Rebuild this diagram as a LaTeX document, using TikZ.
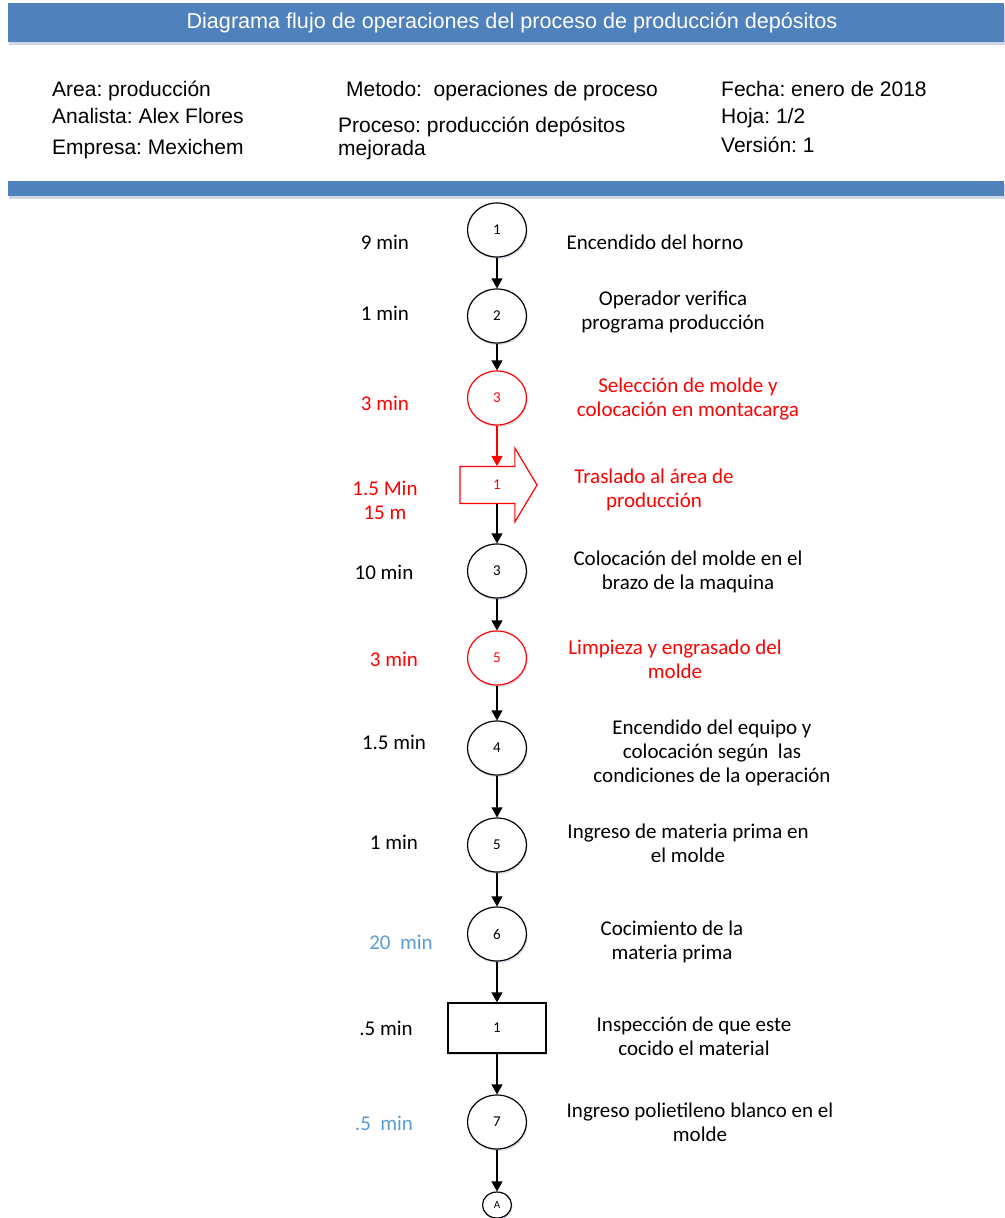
\documentclass[tikz,border=0pt]{standalone}
\usepackage{fontspec}
\setmainfont{Carlito}
\newfontfamily\headfont{Liberation Sans}
\usetikzlibrary{arrows.meta,shapes.geometric,shapes.arrows,shadows}
\definecolor{HDblue}{HTML}{4F81BD}
\definecolor{HDred}{HTML}{FF0000}
\definecolor{HDsky}{HTML}{5B9BD5}
\definecolor{HDink}{HTML}{000000}
\definecolor{HDshade}{HTML}{BFCCDD}
\frenchspacing

\begin{document}
\begin{tikzpicture}[
  x=1pt,y=-1pt,
  font=\fontsize{21}{24}\selectfont,
  >={Triangle[length=10pt,width=11pt]},
  flow/.style={draw=HDink,line width=1.3pt,->},
  flowred/.style={flow,draw=HDred},
  bar/.style={fill=HDblue,inner sep=0pt,
    drop shadow={shadow xshift=1pt,shadow yshift=-2.5pt,fill=HDshade,opacity=0.8}},
  head/.style={font=\headfont\fontsize{21}{24}\selectfont,text=HDink,inner sep=0pt},
  opcircle/.style={ellipse,draw=HDink,line width=1.2pt,fill=white,
    minimum width=59pt,minimum height=54pt,inner sep=0pt,
    font=\fontsize{15}{17}\selectfont,
    drop shadow={shadow xshift=1pt,shadow yshift=-2pt,fill=HDshade,opacity=0.6}},
  opred/.style={opcircle,draw=HDred,text=HDred},
  inspbox/.style={opcircle,rectangle,minimum width=98pt,minimum height=50pt},
  transport/.style={single arrow,draw=HDred,line width=1.2pt,fill=white,text=HDred,
    font=\fontsize{15}{17}\selectfont,minimum height=77pt,minimum width=0pt,
    inner xsep=4pt,inner ysep=13pt,single arrow head extend=18.5pt,
    single arrow tip angle=118},
  linkcircle/.style={opcircle,minimum width=29pt,minimum height=26pt,
    font=\fontsize{11}{13}\selectfont},
  timetxt/.style={align=center,text=HDink},
  desc/.style={align=center,text=HDink}
]
\useasboundingbox (0,0) rectangle (1004,1218);

% Header bars and sheet data.
\node[bar,minimum width=996pt,minimum height=39pt,text=white,
  font=\headfont\fontsize{21.6}{24}\selectfont] (titulo) at (506,22.5)
  {\hspace*{12pt}Diagrama flujo de operaciones del proceso de producción depósitos};
\node[bar,minimum width=996pt,minimum height=15pt] (franja) at (506,188.5) {};

\node[head,anchor=base west] (area) at (52,96) {Area: producción};
\node[head,anchor=base west] (analista) at (52,123) {Analista: Alex Flores};
\node[head,anchor=base west] (empresa) at (52,154) {Empresa: Mexichem};
\node[head,anchor=base west] (metodo) at (346,96) {Metodo:~ operaciones de proceso};
\node[head,anchor=base west] (proceso) at (338,132) {Proceso: producción depósitos};
\node[head,anchor=base west] (mejorada) at (338,155) {mejorada};
\node[head,anchor=base west] (fecha) at (721,96) {Fecha: enero de 2018};
\node[head,anchor=base west] (hoja) at (721,123) {Hoja: 1/2};
\node[head,anchor=base west] (version) at (721,152) {Versión: 1};

% Symbols down the centre line.
\node[opcircle] (horno) at (497,230) {1};
\node[opcircle] (verifica) at (497,316) {2};
\node[opred] (seleccion) at (497,398) {3};
\node[transport] (traslado) at (493,485) {\hspace*{8pt}1};
\node[opcircle] (brazo) at (497,571) {3};
\node[opred] (limpieza) at (497,658) {5};
\node[opcircle] (equipo) at (497,748) {4};
\node[opcircle] (materia) at (497,845) {5};
\node[opcircle] (cocimiento) at (497,934) {6};
\node[inspbox] (inspeccion) at (497,1028) {1};
\node[opcircle] (polietileno) at (497,1122) {7};
\node[linkcircle] (conector) at (497,1205) {A};

% Times on the left.
\node[timetxt] at (385,242) {9 min};
\node[timetxt] at (385,313) {1 min};
\node[timetxt,text=HDred] at (385,403) {3 min};
\node[timetxt,text=HDred] at (385,500) {1.5 Min\\15 m};
\node[timetxt] at (384,572) {10 min};
\node[timetxt,text=HDred] at (394,659) {3 min};
\node[timetxt] at (394,742) {1.5 min};
\node[timetxt] at (394,842) {1 min};
\node[timetxt,text=HDsky] at (401,942) {20~ min};
\node[timetxt] at (386,1028) {.5 min};
\node[timetxt,text=HDsky] at (384,1123) {.5~ min};

% Descriptions on the right.
\node[desc] at (655,242) {Encendido del horno};
\node[desc] at (673,312) {Operador verifica\\programa producción};
\node[desc,text=HDred] at (688,399) {Selección de molde y\\colocación en montacarga};
\node[desc,text=HDred] at (654,490) {Traslado al área de\\producción};
\node[desc] at (688,572) {Colocación del molde en el\\brazo de la maquina};
\node[desc,text=HDred] at (675,659) {Limpieza y engrasado del\\molde};
\node[desc] at (712,753) {Encendido del equipo y\\colocación según~ las\\condiciones de la operación};
\node[desc] at (688,843) {Ingreso de materia prima en\\el molde};
\node[desc] at (672,942) {Cocimiento de la\\materia prima};
\node[desc] at (694,1036) {Inspección de que este\\cocido el material};
\node[desc] at (700,1122) {Ingreso polietileno blanco en el\\molde};

\draw[flow] (horno.south) -- (verifica.north);
\draw[flow] (verifica.south) -- (seleccion.north);
\draw[flowred] (seleccion.south) -- (seleccion.south |- traslado.north);
\draw[flow] (brazo.north |- traslado.south) -- (brazo.north);
\draw[flow] (brazo.south) -- (limpieza.north);
\draw[flow] (limpieza.south) -- (equipo.north);
\draw[flow] (equipo.south) -- (materia.north);
\draw[flow] (materia.south) -- (cocimiento.north);
\draw[flow] (cocimiento.south) -- (inspeccion.north);
\draw[flow] (inspeccion.south) -- (polietileno.north);
\draw[flow] (polietileno.south) -- (conector.north);

\end{tikzpicture}
\end{document}
